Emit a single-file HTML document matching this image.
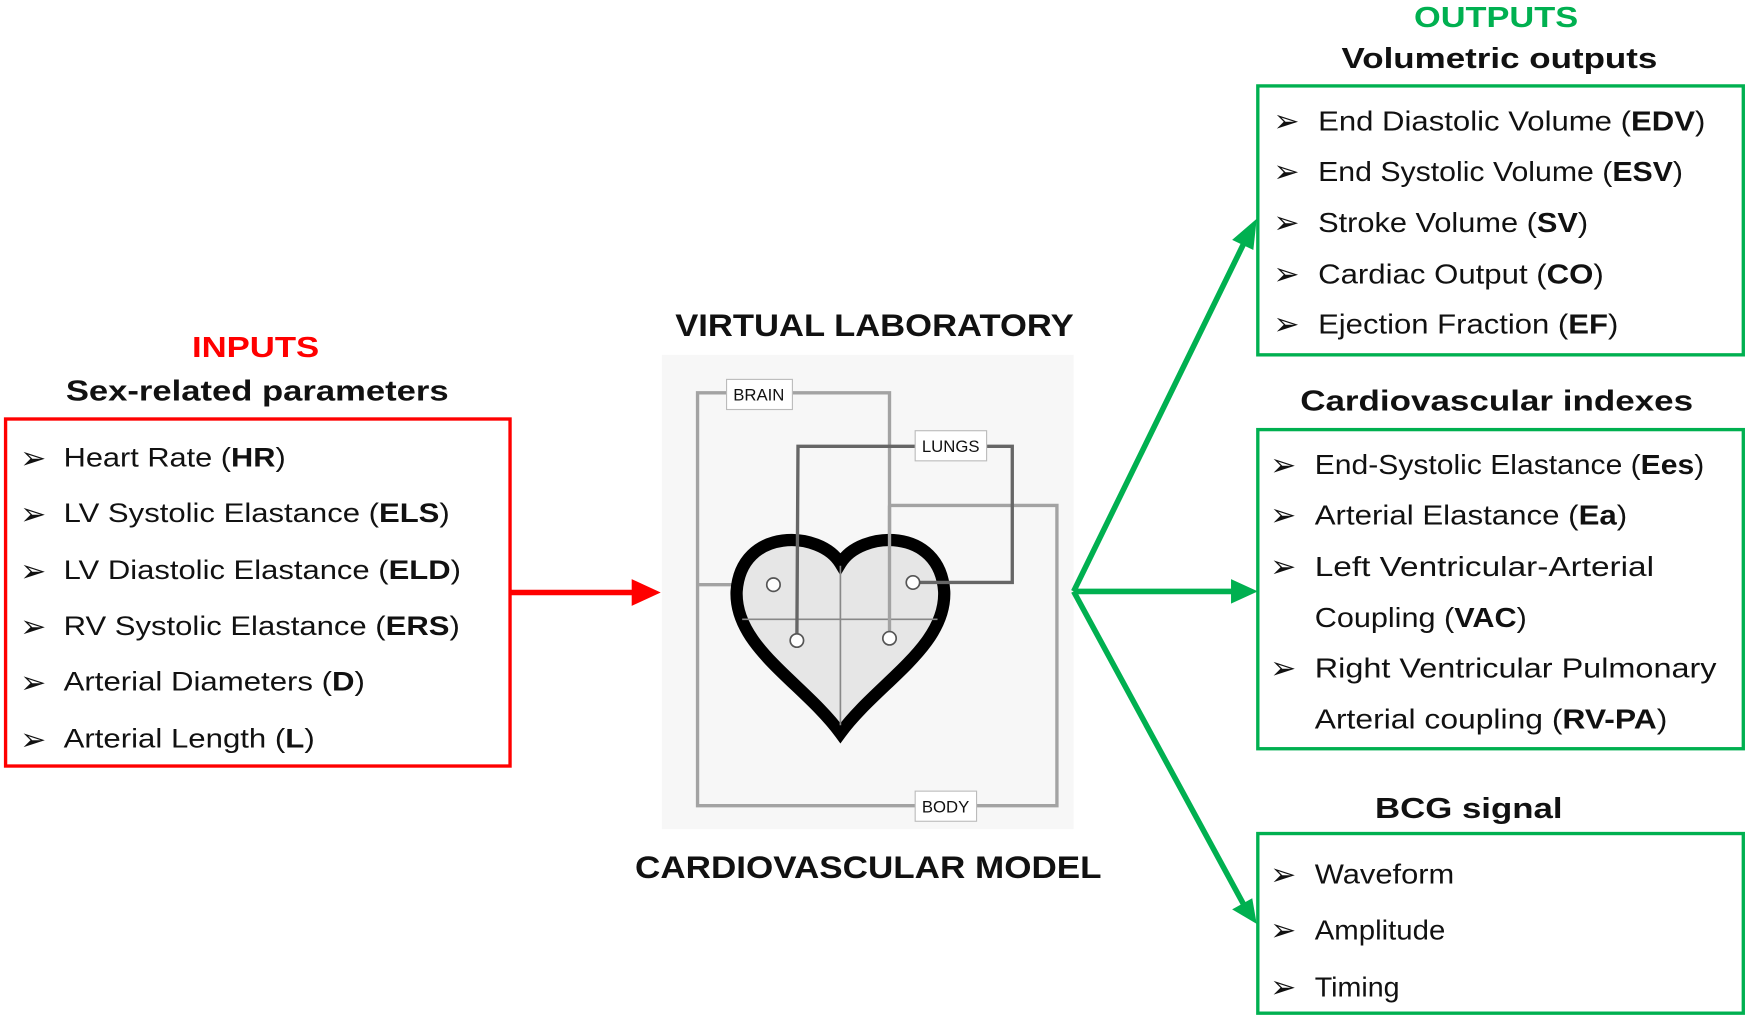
<!DOCTYPE html>
<html><head><meta charset="utf-8"><style>html,body{margin:0;padding:0;background:#fff;}svg{display:block}</style></head>
<body>
<svg width="1750" height="1021" viewBox="0 0 1568 915" preserveAspectRatio="none" xmlns="http://www.w3.org/2000/svg" font-family="Liberation Sans, Arial, sans-serif">
<rect width="1568" height="915" fill="#fff"/>
<text x="172" y="320" font-size="26" font-weight="bold" fill="#f00" textLength="114" lengthAdjust="spacingAndGlyphs">INPUTS</text>
<text x="59" y="359" font-size="26" font-weight="bold" fill="#111" textLength="343" lengthAdjust="spacingAndGlyphs">Sex-related parameters</text>
<rect x="5" y="375.5" width="452" height="311" fill="none" stroke="#f00" stroke-width="3"/>
<g font-size="24" fill="#111">
<g font-family="DejaVu Sans" font-size="28">
<text x="18" y="420">➢</text><text x="18" y="470">➢</text><text x="18" y="521">➢</text><text x="18" y="571">➢</text><text x="18" y="621">➢</text><text x="18" y="672">➢</text>
</g>
<text x="57" y="418" textLength="199" lengthAdjust="spacingAndGlyphs">Heart Rate (<tspan font-weight="bold">HR</tspan>)</text>
<text x="57" y="468" textLength="346" lengthAdjust="spacingAndGlyphs">LV Systolic Elastance (<tspan font-weight="bold">ELS</tspan>)</text>
<text x="57" y="519" textLength="356" lengthAdjust="spacingAndGlyphs">LV Diastolic Elastance (<tspan font-weight="bold">ELD</tspan>)</text>
<text x="57" y="569" textLength="355" lengthAdjust="spacingAndGlyphs">RV Systolic Elastance (<tspan font-weight="bold">ERS</tspan>)</text>
<text x="57" y="619" textLength="270" lengthAdjust="spacingAndGlyphs">Arterial Diameters  (<tspan font-weight="bold">D</tspan>)</text>
<text x="57" y="670" textLength="225" lengthAdjust="spacingAndGlyphs">Arterial Length  (<tspan font-weight="bold">L</tspan>)</text>
</g>
<line x1="457" y1="531" x2="572" y2="531" stroke="#f00" stroke-width="5"/>
<polygon points="566,519 592,531 566,543" fill="#f00"/>
<text x="605" y="301" font-size="28" font-weight="bold" fill="#111" textLength="357" lengthAdjust="spacingAndGlyphs">VIRTUAL LABORATORY</text>
<text x="569" y="787" font-size="28" font-weight="bold" fill="#111" textLength="418" lengthAdjust="spacingAndGlyphs">CARDIOVASCULAR  MODEL</text>
<rect x="593" y="318" width="369" height="425" fill="#f7f7f7"/>
<g fill="none" stroke-width="3">
<polyline points="797,572 797,352 625,352 625,722 947,722 947,453 797,453" stroke="#a3a3a3"/>
<line x1="625" y1="524" x2="693" y2="524" stroke="#a3a3a3"/>
</g>
<path d="M753,505 C735,475 664,472 660,530 C658,580 720,612 753,657 C786,612 848,580 846,530 C842,472 771,475 753,505 Z" fill="#e6e6e6" stroke="#000" stroke-width="11" stroke-linejoin="miter"/>
<line x1="665" y1="555" x2="840" y2="555" stroke="#888" stroke-width="1.5"/>
<line x1="753" y1="507" x2="753" y2="650" stroke="#888" stroke-width="1.5"/>
<g fill="none" stroke-width="3">
<line x1="797" y1="453" x2="797" y2="572" stroke="#a3a3a3"/>
<polyline points="714,573 715,400 907,400 907,522 818,522" stroke="#666"/>
</g>
<g fill="#fff" stroke="#555" stroke-width="1.5">
<circle cx="693" cy="524" r="6"/><circle cx="818" cy="522" r="6"/>
<circle cx="714" cy="574" r="6"/><circle cx="797" cy="572" r="6"/>
</g>
<g fill="#fff" stroke="#bbb" stroke-width="1">
<rect x="651" y="340" width="59" height="27"/><rect x="820" y="386" width="64" height="27"/><rect x="820" y="709" width="55" height="27"/>
</g>
<g font-size="15" fill="#111">
<text x="657" y="359">BRAIN</text><text x="826" y="405">LUNGS</text><text x="826" y="728">BODY</text>
</g>
<g stroke="#00b050" stroke-width="5" fill="none">
<line x1="962" y1="530" x2="1116" y2="215"/>
<line x1="962" y1="530" x2="1108" y2="530"/>
<line x1="962" y1="530" x2="1114" y2="810"/>
</g>
<g fill="#00b050">
<polygon points="1126,196 1123,224 1104,215"/>
<polygon points="1127,530 1103,519 1103,541"/>
<polygon points="1126,828 1104,815 1122,805"/>
</g>
<text x="1267" y="24" font-size="26" font-weight="bold" fill="#00b050" textLength="147" lengthAdjust="spacingAndGlyphs">OUTPUTS</text>
<text x="1202" y="61" font-size="26" font-weight="bold" fill="#111" textLength="283" lengthAdjust="spacingAndGlyphs">Volumetric outputs</text>
<text x="1165" y="368" font-size="26" font-weight="bold" fill="#111" textLength="352" lengthAdjust="spacingAndGlyphs">Cardiovascular indexes</text>
<text x="1232" y="733" font-size="26" font-weight="bold" fill="#111" textLength="168" lengthAdjust="spacingAndGlyphs">BCG signal</text>
<g fill="none" stroke="#00b050" stroke-width="3">
<rect x="1127" y="77" width="435" height="241"/>
<rect x="1127" y="385" width="435" height="286"/>
<rect x="1127" y="747" width="435" height="161"/>
</g>
<g font-size="25" fill="#111">
<g font-family="DejaVu Sans" font-size="28">
<text x="1141" y="118">➢</text><text x="1141" y="163">➢</text><text x="1141" y="209">➢</text><text x="1141" y="255">➢</text><text x="1141" y="300">➢</text>
<text x="1138" y="426">➢</text><text x="1138" y="471">➢</text><text x="1138" y="517">➢</text><text x="1138" y="608">➢</text>
<text x="1138" y="793">➢</text><text x="1138" y="843">➢</text><text x="1138" y="894">➢</text>
</g>
<text x="1181" y="117" textLength="347" lengthAdjust="spacingAndGlyphs">End Diastolic Volume (<tspan font-weight="bold">EDV</tspan>)</text>
<text x="1181" y="162" textLength="327" lengthAdjust="spacingAndGlyphs">End Systolic Volume (<tspan font-weight="bold">ESV</tspan>)</text>
<text x="1181" y="208" textLength="242" lengthAdjust="spacingAndGlyphs">Stroke Volume (<tspan font-weight="bold">SV</tspan>)</text>
<text x="1181" y="254" textLength="256" lengthAdjust="spacingAndGlyphs">Cardiac Output (<tspan font-weight="bold">CO</tspan>)</text>
<text x="1181" y="299" textLength="269" lengthAdjust="spacingAndGlyphs">Ejection Fraction (<tspan font-weight="bold">EF</tspan>)</text>
<text x="1178" y="425" textLength="349" lengthAdjust="spacingAndGlyphs">End-Systolic Elastance (<tspan font-weight="bold">Ees</tspan>)</text>
<text x="1178" y="470" textLength="280" lengthAdjust="spacingAndGlyphs">Arterial Elastance (<tspan font-weight="bold">Ea</tspan>)</text>
<text x="1178" y="516" textLength="304" lengthAdjust="spacingAndGlyphs">Left Ventricular-Arterial</text>
<text x="1178" y="562" textLength="190" lengthAdjust="spacingAndGlyphs">Coupling (<tspan font-weight="bold">VAC</tspan>)</text>
<text x="1178" y="607" textLength="360" lengthAdjust="spacingAndGlyphs">Right Ventricular Pulmonary</text>
<text x="1178" y="653" textLength="316" lengthAdjust="spacingAndGlyphs">Arterial coupling (<tspan font-weight="bold">RV-PA</tspan>)</text>
<text x="1178" y="792" textLength="125" lengthAdjust="spacingAndGlyphs">Waveform</text>
<text x="1178" y="842" textLength="117" lengthAdjust="spacingAndGlyphs">Amplitude</text>
<text x="1178" y="893" textLength="76" lengthAdjust="spacingAndGlyphs">Timing</text>
</g>
</svg>
</body></html>
